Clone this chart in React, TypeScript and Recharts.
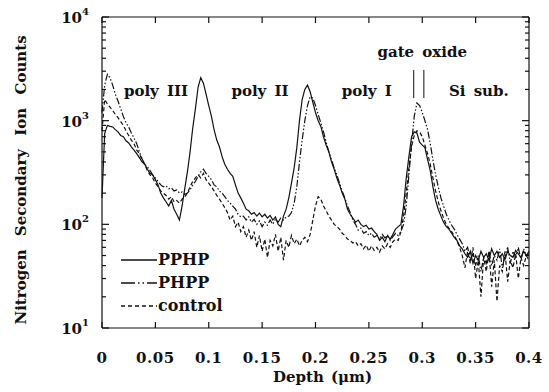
import React from "react";
import {
  LineChart,
  Line,
  XAxis,
  YAxis,
  ReferenceLine,
  ReferenceDot,
  Legend,
} from "recharts";

// SIMS nitrogen profiles, sampled every 0.0025 um (0 .. 0.4)
const STEP = 0.0025;
const depth = Array.from({ length: 161 }, (_, i) => +(i * STEP).toFixed(4));

const pphp = [
  180, 750, 900, 880, 870, 820, 780, 720, 700, 640,
  610, 560, 520, 480, 440, 400, 380, 340, 310, 300,
  270, 240, 200, 180, 165, 150, 170, 140, 125, 110,
  150, 220, 320, 500, 850, 1300, 2100, 2600, 2300, 1800,
  1400, 1100, 820, 650, 560, 450, 380, 340, 310, 290,
  240, 200, 180, 160, 140, 135, 125, 130, 120, 128,
  118, 125, 115, 122, 110, 118, 100, 95, 120, 140,
  180, 250, 350, 550, 1000, 1600, 2000, 2200, 1900, 1500,
  1200, 1000, 880, 700, 580, 500, 400, 340, 280, 240,
  200, 175, 140, 125, 115, 105, 110, 100, 95, 98,
  90, 92, 85, 80, 70, 75, 68, 78, 72, 80,
  90, 95, 100, 150, 280, 450, 700, 780, 760, 620,
  580, 550, 420, 330, 230, 170, 140, 120, 105, 95,
  90, 82, 75, 70, 62, 58, 52, 48, 55, 42,
  50, 45, 55, 48, 52, 45, 58, 50, 55, 48,
  52, 46, 55, 50, 48, 56, 52, 48, 55, 50,
  52,
];

const phpp = [
  1200, 2200, 2800, 2600, 2200, 1800, 1550, 1300, 1100, 950,
  870, 760, 680, 600, 500, 430, 380, 360, 330, 300,
  280, 260, 240, 230, 235, 220, 225, 210, 215, 200,
  205, 195, 200, 215, 240, 260, 290, 320, 340, 310,
  290, 270, 240, 230, 210, 200, 185, 170, 160, 150,
  140, 125, 118, 120, 110, 118, 105, 112, 100, 108,
  95, 105, 98, 110, 100, 112, 105, 115, 110, 118,
  120, 130, 160, 230, 400, 650, 1000, 1400, 1700, 1650,
  1400, 1150, 950, 780, 620, 500, 420, 350, 300, 250,
  210, 180, 150, 130, 110, 100, 88, 92, 82, 85,
  78, 82, 75, 78, 72, 80, 74, 78, 70, 76,
  82, 78, 85, 100, 150, 300, 600, 1100, 1480, 1400,
  1200, 1000, 820, 600, 420, 300, 230, 180, 150, 125,
  110, 98, 90, 80, 72, 65, 55, 60, 45, 52,
  40, 50, 35, 48, 42, 55, 40, 50, 45, 58,
  38, 50, 60, 42, 55, 48, 60, 45, 58, 50,
  55,
];

const control = [
  800, 1600, 1450, 1350, 1250, 1150, 1070, 980, 900, 800,
  720, 650, 600, 520, 480, 420, 380, 330, 300, 280,
  250, 230, 210, 200, 190, 175, 185, 165, 170, 160,
  175, 185, 200, 230, 260, 280, 300, 280, 310, 270,
  250, 230, 210, 190, 175, 160, 145, 130, 110, 120,
  95, 105, 85, 95, 75, 88, 70, 85, 60, 78,
  55, 72, 48, 70, 62, 80, 55, 75, 45, 70,
  60, 78, 65, 72, 62, 70, 75, 68, 80, 110,
  150, 185, 175, 150, 135, 120, 110, 100, 95, 90,
  82, 78, 72, 70, 66, 68, 62, 65, 58, 63,
  55, 62, 56, 60, 54, 62, 58, 65, 60, 68,
  72, 70, 85, 120, 200, 350, 560, 720, 800, 780,
  700, 580, 480, 380, 280, 210, 165, 135, 115, 100,
  92, 85, 78, 70, 60, 50, 38, 55, 42, 60,
  30, 45, 20, 48, 35, 55, 25, 45, 18, 40,
  35, 55, 28, 45, 38, 52, 30, 48, 40, 50,
  45,
];

const xTicks = [0, 0.05, 0.1, 0.15, 0.2, 0.25, 0.3, 0.35, 0.4];
const yMajor = [10, 100, 1000, 10000];
const yTicks = [
  10, 20, 30, 40, 50, 60, 70, 80, 90,
  100, 200, 300, 400, 500, 600, 700, 800, 900,
  1000, 2000, 3000, 4000, 5000, 6000, 7000, 8000, 9000,
  10000,
];

const regionLabels = [
  { text: "poly III", x: 0.0506, y: 1950 },
  { text: "poly II", x: 0.148, y: 1950 },
  { text: "poly I", x: 0.248, y: 1950 },
  { text: "Si sub.", x: 0.353, y: 1950 },
  { text: "gate oxide", x: 0.3, y: 4550 },
];
const oxideEdges = [0.292, 0.3015];
const oxideSpan = [1650, 3080];

const series = [
  { key: "pphp", name: "PPHP", dash: undefined, legendDash: undefined },
  { key: "phpp", name: "PHPP", dash: "7 2 1.5 2 1.5 2", legendDash: "14 3 1.5 3 1.5 3" },
  { key: "control", name: "control", dash: "4 2.5", legendDash: "4 3" },
];

const data = depth.map((d, i) => ({
  depth: d,
  pphp: pphp[i],
  phpp: phpp[i],
  control: control[i],
}));

const W = 549;
const H = 392;
const PLOT_W = 427;
const PLOT_H = 311;
const INK = "#111";
const FONT = "DejaVu Serif";

function XTick({ x, y, payload }: any) {
  return (
    <g>
      <line x1={x} x2={x} y1={y} y2={y - 6} stroke={INK} strokeWidth={1.2} />
      <line x1={x} x2={x} y1={y - PLOT_H} y2={y - PLOT_H + 6} stroke={INK} strokeWidth={1.2} />
      <text
        x={x}
        y={y + 35}
        textAnchor="middle"
        style={{ fontFamily: FONT, fontWeight: 700, fontSize: 15, letterSpacing: 0.5 }}
        fill={INK}
      >
        {String(payload.value)}
      </text>
    </g>
  );
}

function YTick({ x, y, payload }: any) {
  const v = payload.value;
  const major = yMajor.includes(v);
  const len = major ? 7 : 4;
  return (
    <g>
      <line x1={x} x2={x + len} y1={y} y2={y} stroke={INK} strokeWidth={1.2} />
      <line x1={x + PLOT_W} x2={x + PLOT_W - len} y1={y} y2={y} stroke={INK} strokeWidth={1.2} />
      {major && (
        <text
          x={x - 13}
          y={y + 6}
          textAnchor="end"
          style={{ fontFamily: FONT, fontWeight: 700, fontSize: 15 }}
          fill={INK}
        >
          10
          <tspan dy={-8} style={{ fontSize: 10 }}>
            {Math.round(Math.log10(v))}
          </tspan>
        </text>
      )}
    </g>
  );
}

function RegionLabel({ viewBox, text }: any) {
  return (
    <text
      x={viewBox.x}
      y={viewBox.y}
      textAnchor="middle"
      dominantBaseline="central"
      style={{ fontFamily: FONT, fontWeight: 700, fontSize: 15, wordSpacing: 3 }}
      fill={INK}
    >
      {text}
    </text>
  );
}

function LegendBox() {
  return (
    <div style={{ fontFamily: FONT, fontWeight: 700, fontSize: 16, color: INK }}>
      {series.map((s) => (
        <div key={s.key} style={{ display: "flex", alignItems: "center", height: 23 }}>
          <svg width={37} height={10} style={{ display: "block" }}>
            <line x1={0} x2={36} y1={5} y2={5} stroke={INK} strokeWidth={1.3} strokeDasharray={s.legendDash} />
          </svg>
          <span style={{ lineHeight: "23px" }}>{s.name}</span>
        </div>
      ))}
    </div>
  );
}

export default function App() {
  return (
    <div style={{ position: "absolute", left: 0, top: 0, width: W, height: H, background: "#fff" }}>
      <LineChart width={W} height={H} data={data} margin={{ top: 17, right: 20, bottom: 0, left: 0 }}>
        <XAxis
          dataKey="depth"
          type="number"
          domain={[0, 0.4]}
          ticks={xTicks}
          interval={0}
          height={64}
          tickSize={0}
          tickMargin={0}
          tickLine={false}
          axisLine={{ stroke: INK, strokeWidth: 1.2 }}
          tick={<XTick />}
          label={(p: any) => (
            <text
              x={p.viewBox.x + p.viewBox.width / 2 + 7}
              y={382}
              textAnchor="middle"
              style={{ fontFamily: FONT, fontWeight: 700, fontSize: 15, wordSpacing: 2 }}
              fill={INK}
            >
              Depth (μm)
            </text>
          )}
        />
        <YAxis
          type="number"
          scale="log"
          domain={[10, 10000]}
          allowDataOverflow
          ticks={yTicks}
          interval={0}
          width={102}
          tickSize={0}
          tickMargin={0}
          tickLine={false}
          axisLine={{ stroke: INK, strokeWidth: 1.2 }}
          tick={<YTick />}
          label={() => (
            <text
              x={21}
              y={180}
              transform="rotate(-90, 21, 180)"
              textAnchor="middle"
              dominantBaseline="central"
              style={{ fontFamily: FONT, fontWeight: 700, fontSize: 15, wordSpacing: 8 }}
              fill={INK}
            >
              Nitrogen Secondary Ion Counts
            </text>
          )}
        />
        <ReferenceLine y={10000} stroke={INK} strokeWidth={1.2} />
        <ReferenceLine x={0.4} stroke={INK} strokeWidth={1.2} />
        {oxideEdges.map((e) => (
          <ReferenceLine
            key={e}
            segment={[
              { x: e, y: oxideSpan[0] },
              { x: e, y: oxideSpan[1] },
            ]}
            stroke={INK}
            strokeWidth={1}
          />
        ))}
        {regionLabels.map((l) => (
          <ReferenceDot
            key={l.text}
            x={l.x}
            y={l.y}
            r={0}
            fill="none"
            stroke="none"
            label={<RegionLabel text={l.text} />}
          />
        ))}
        {series.map((s) => (
          <Line
            key={s.key}
            dataKey={s.key}
            name={s.name}
            type="linear"
            stroke={INK}
            strokeWidth={1.2}
            strokeDasharray={s.dash}
            dot={false}
            activeDot={false}
            isAnimationActive={false}
          />
        ))}
        <Legend
          layout="vertical"
          align="center"
          verticalAlign="middle"
          content={<LegendBox />}
          wrapperStyle={{ position: "absolute", left: 121, top: 248, width: "auto", height: "auto" }}
        />
      </LineChart>
    </div>
  );
}
